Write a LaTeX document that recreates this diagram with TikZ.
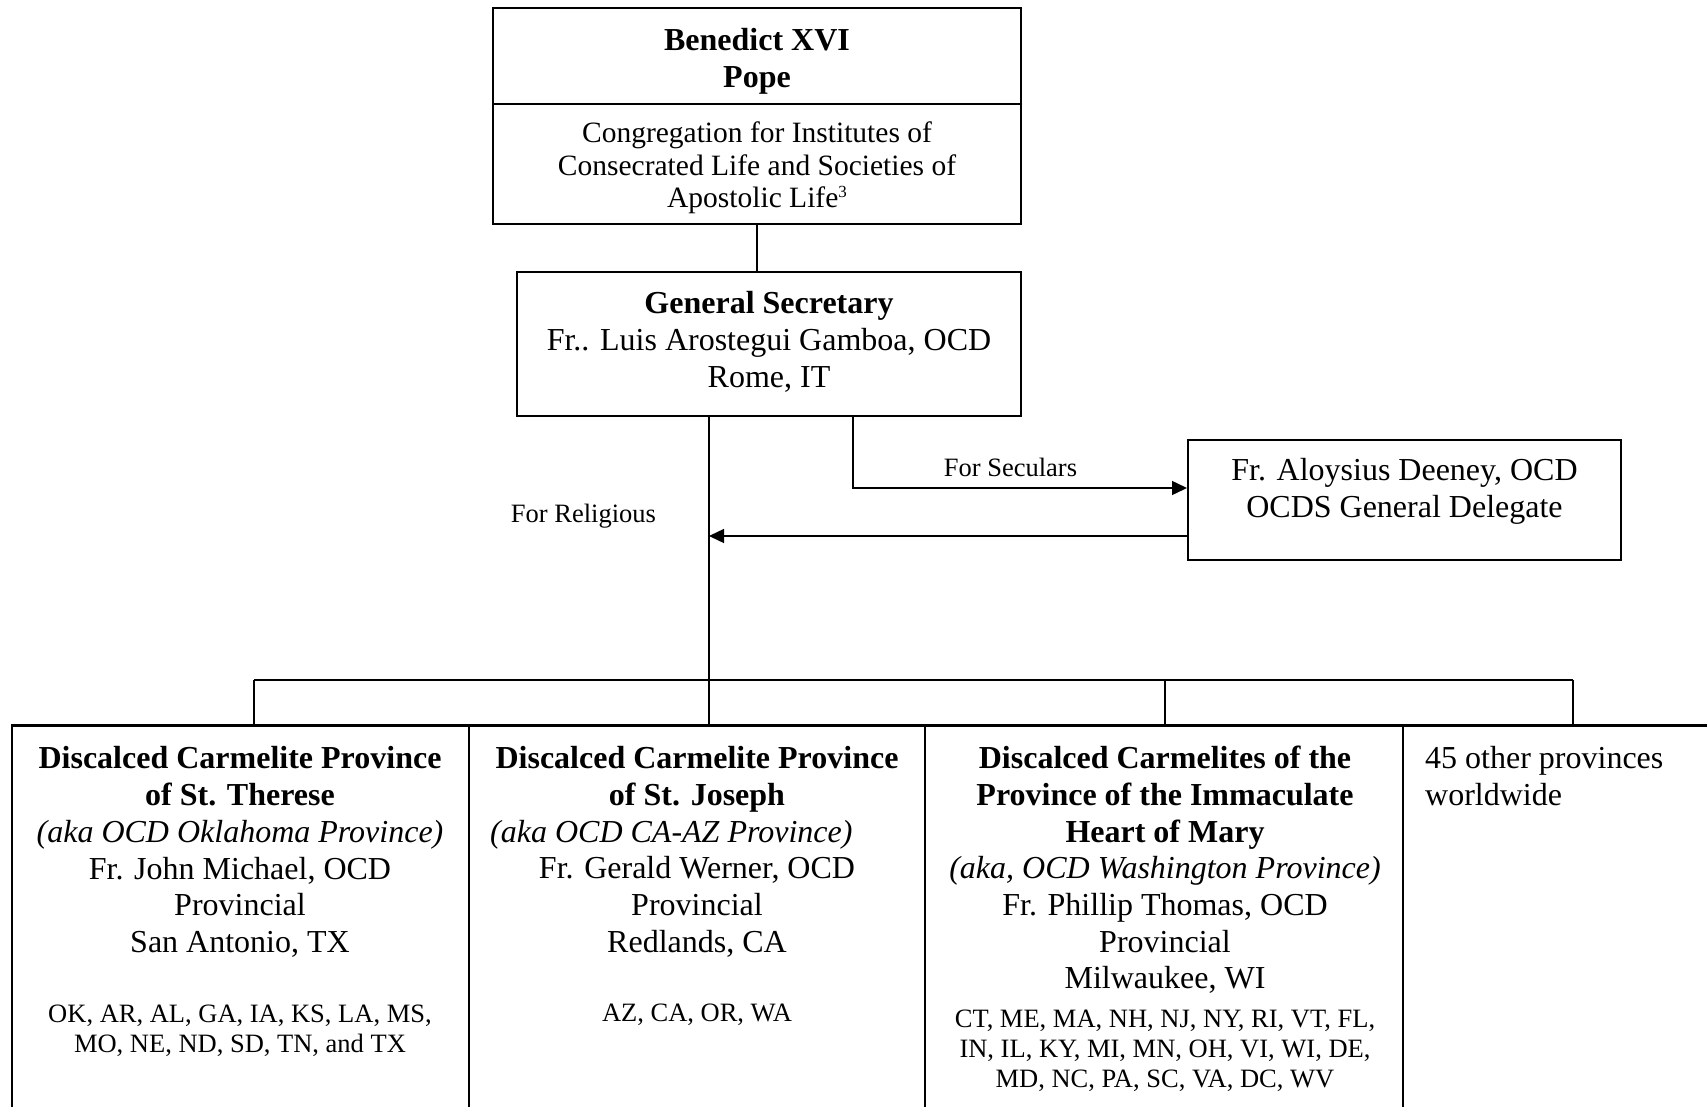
\documentclass[tikz,border=0pt]{standalone}
\usepackage{fontspec}
\setmainfont{Liberation Serif}
\usetikzlibrary{arrows.meta}
\begin{document}
\begin{tikzpicture}[x=1pt,y=-1pt,
  box/.style={draw, line width=2pt, inner sep=0pt},
  conn/.style={line width=1.4pt},
  arr/.style={conn, -{Triangle[length=15pt,width=14pt]}},
  tmain/.style={font=\fontsize{32}{36.7}\selectfont, align=center, inner sep=0pt},
  tcong/.style={font=\fontsize{29.5}{32.5}\selectfont, align=center, inner sep=0pt},
  tstate/.style={font=\fontsize{26.5}{29.8}\selectfont, align=center, inner sep=0pt},
  tlbl/.style={font=\fontsize{26.5}{30}\selectfont, inner sep=0pt}
]
\useasboundingbox (0,0) rectangle (1707,1107);
\clip (0,0) rectangle (1707,1107);

% top box
\node[box, minimum width=528pt, minimum height=216pt] (pope) at (757,116) {};
\draw[line width=2pt] (pope.west |- 0,104.5) -- (pope.east |- 0,104.5);
\node[tmain] (popet) at (757,61) {\textbf{Benedict XVI}\\\textbf{Pope}};
\node[tcong] (cong) at (757,168) {Congregation for Institutes of\\Consecrated Life and Societies of\\Apostolic Life\raisebox{0.75ex}{\fontsize{17}{17}\selectfont 3}};

% general secretary
\node[box, minimum width=504pt, minimum height=144pt] (gensec) at (769,344) {};
\node[tmain] (gensect) at (769,342) {\textbf{General Secretary}\\Fr.. Luis Arostegui Gamboa, OCD\\Rome, IT};
\draw[conn] (pope.south) -- (pope.south |- gensec.north);

% delegate
\node[box, minimum width=433pt, minimum height=120pt] (del) at (1404.5,500) {};
\node[tmain] (delt) at (1404.5,491) {Fr. Aloysius Deeney, OCD\\OCDS General Delegate};

\coordinate (secstart) at (853,416);
\draw[arr] (secstart) |- (del.west |- 0,488);
\node[tlbl] (seclbl) at (1010.5,467) {For Seculars};

\coordinate (relend) at (709,536);
\draw[arr] (del.west |- relend) -- (relend);
\node[tlbl] (rellbl) at (583.5,516) {For Religious};

% bottom boxes
\node[box, minimum width=457pt, minimum height=440pt] (p1) at (240.5,946) {};
\node[box, minimum width=456pt, minimum height=440pt] (p2) at (697,946) {};
\node[box, minimum width=478pt, minimum height=440pt] (p3) at (1164,946) {};
\node[box, minimum width=357pt, minimum height=440pt] (p4) at (1581.5,946) {};
\draw[line width=2.6pt] (p1.north west) -- (p4.north east);

% trunk and bus
\coordinate (d1) at (254,680);
\coordinate (d2) at (709,680);
\coordinate (d3) at (1165,680);
\coordinate (d4) at (1573,680);
\draw[conn] (gensec.south -| d2) -- (d2);
\draw[line width=2pt] (d1) -- (d4);
\draw[conn] (d1) -- (d1 |- p1.north);
\draw[conn] (d2) -- (d2 |- p2.north);
\draw[conn] (d3) -- (d3 |- p3.north);
\draw[conn] (d4) -- (d4 |- p4.north);

% texts col 1
\node[tmain] (p1t) at (240,852) {\textbf{Discalced Carmelite Province}\\\textbf{of St. Therese}\\\textit{(aka OCD Oklahoma Province)}\\Fr. John Michael, OCD\\Provincial\\San Antonio, TX};
\node[tstate] (p1s) at (240,1030.5) {OK, AR, AL, GA, IA, KS, LA, MS,\\MO, NE, ND, SD, TN, and TX};

% col 2
\node[tmain] (p2t) at (697,779.5) {\textbf{Discalced Carmelite Province}\\\textbf{of St. Joseph}};
\node[tmain, anchor=west] (p2i) at (490,835) {\textit{(aka OCD CA-AZ Province)}};
\node[tmain] (p2n) at (697,907) {Fr. Gerald Werner, OCD\\Provincial\\Redlands, CA};
\node[tstate] (p2s) at (697,1015) {AZ, CA, OR, WA};

% col 3
\node[tmain] (p3t) at (1165,870) {\textbf{Discalced Carmelites of the}\\\textbf{Province of the Immaculate}\\\textbf{Heart of Mary}\\\textit{(aka, OCD Washington Province)}\\Fr. Phillip Thomas, OCD\\Provincial\\Milwaukee, WI};
\node[tstate] (p3s) at (1165,1051) {CT, ME, MA, NH, NJ, NY, RI, VT, FL,\\IN, IL, KY, MI, MN, OH, VI, WI, DE,\\MD, NC, PA, SC, VA, DC, WV};

% col 4
\node[tmain, align=left, anchor=west] (p4t) at (1425,776) {45 other provinces\\worldwide};
\end{tikzpicture}
\end{document}
